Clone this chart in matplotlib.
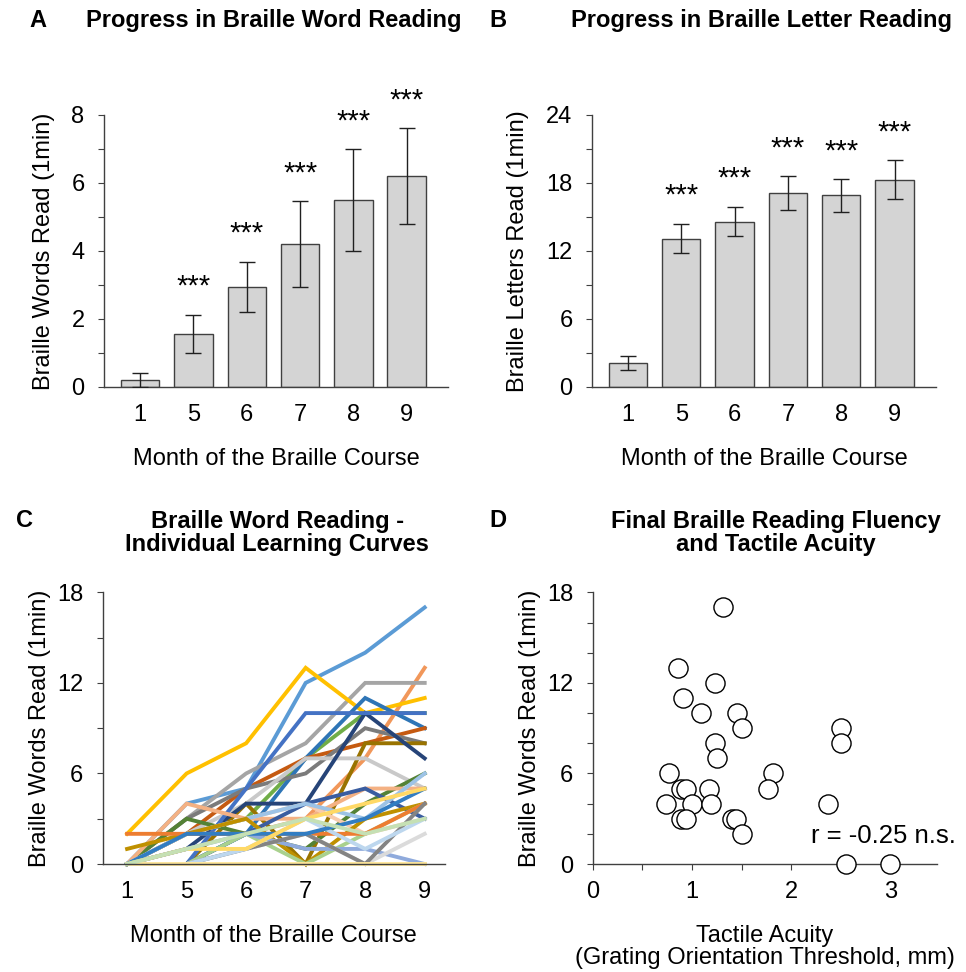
import matplotlib
matplotlib.use("Agg")
import matplotlib.pyplot as plt

plt.rcParams['font.family'] = ['Liberation Sans', 'DejaVu Sans']

# Panel A/B: group means and error bars per course month
months = ['1', '5', '6', '7', '8', '9']
word_mean = [0.2, 1.56, 2.95, 4.2, 5.5, 6.2]
word_err = [0.2, 0.57, 0.74, 1.26, 1.5, 1.42]
letter_mean = [2.1, 13.1, 14.6, 17.1, 16.9, 18.3]
letter_err = [0.6, 1.3, 1.3, 1.5, 1.45, 1.7]
word_sig = ['', '***', '***', '***', '***', '***']
letter_sig = ['', '***', '***', '***', '***', '***']

# Panel C: individual curves (words read at months 1,5,6,7,8,9)
curves = [
    [0, 4, 5, 12, 14, 17],
    [0, 2, 2, 3, 7, 13],
    [0, 3, 6, 8, 12, 12],
    [2, 6, 8, 13, 10, 11],
    [0, 2, 3, 7, 10, 10],
    [0, 0, 2, 7, 11, 9],
    [0, 2, 5, 7, 8, 9],
    [0, 3, 5, 6, 9, 8],
    [0, 0, 4, 0, 8, 8],
    [0, 2, 4, 7, 7, 5],
    [0, 1, 4, 4, 10, 7],
    [0, 0, 5, 10, 10, 10],
    [0, 3, 2, 1, 4, 6],
    [0, 4, 3, 3, 5, 5],
    [0, 2, 3, 4, 2, 3],
    [0, 0, 2, 4, 5, 3],
    [0, 2, 3, 4, 3, 6],
    [1, 2, 3, 0, 3, 4],
    [0, 0, 2, 0, 2, 4],
    [2, 2, 2, 2, 2, 4],
    [0, 1, 2, 1, 1, 0],
    [0, 0, 1, 2, 0, 2],
    [0, 0, 1, 2, 0, 4],
    [0, 0, 1, 3, 1, 3],
    [0, 2, 2, 2, 3, 5],
    [0, 1, 1, 3, 4, 5],
    [0, 0, 0, 0, 0, 0],
    [0, 1, 2, 3, 2, 3],
]
curve_colors = ['#5b9bd5', '#f1975a', '#a5a5a5', '#ffc000', '#70ad47', '#2e75b6',
                '#c55a11', '#7b7b7b', '#997300', '#c9c9c9', '#264478', '#4472c4',
                '#548235', '#f4b183', '#f8cbad', '#3a5da0', '#9dc3e6', '#bf9000',
                '#a9d18e', '#ed7d31', '#8faadc', '#dbdbdb', '#848484', '#bdd7ee',
                '#327dc2', '#ffd966', '#ffe699', '#c5e0b4']

# Panel D: acuity threshold vs final words read
acuity = [1.31, 0.855, 1.23, 0.905, 1.09, 1.455, 1.505, 2.505, 2.505, 1.235,
          1.25, 0.765, 1.815, 1.765, 0.89, 0.94, 1.17, 0.74, 1.0, 1.19,
          2.37, 0.89, 0.94, 1.40, 1.445, 1.5, 2.55, 3.0]
final_words = [17, 13, 12, 11, 10, 10, 9, 9, 8, 8,
               7, 6, 6, 5, 5, 5, 5, 4, 4, 4,
               4, 3, 3, 3, 3, 2, 0, 0]

AX = '#404040'
FS = 17


def style_axes(ax):
    for s in ['top', 'right']:
        ax.spines[s].set_visible(False)
    for s in ['left', 'bottom']:
        ax.spines[s].set_color(AX)
        ax.spines[s].set_linewidth(1.0)
    ax.tick_params(axis='y', direction='out', length=4, color=AX, labelsize=FS, pad=10)
    ax.tick_params(axis='x', length=0, labelsize=FS, pad=12)


def bar_panel(ax, means, errs, sig, ymax, step, ylabel, lpad):
    x = list(range(len(months)))
    ax.bar(x, means, width=0.72, color='#d4d4d4', edgecolor=AX, linewidth=1.0, zorder=2)
    ax.errorbar(x, means, yerr=errs, fmt='none', ecolor='#202020', elinewidth=1.0,
                capsize=6, capthick=1.0, zorder=3)
    for xi, m, e, s in zip(x, means, errs, sig):
        if s:
            ax.annotate(s, xy=(xi, m + e), xytext=(0, 20), textcoords='offset points',
                        ha='center', va='center', fontsize=21)
    ax.set_xlim(-0.675, 5.775)
    ax.set_ylim(0, ymax)
    ax.set_xticks(x)
    ax.set_xticklabels(months)
    ticks = [i * step / 2 for i in range(0, int(2 * ymax / step) + 1)]
    ax.set_yticks(ticks)
    ax.set_yticklabels([('%g' % t) if i % 2 == 0 else '' for i, t in enumerate(ticks)])
    ax.set_ylabel(ylabel, fontsize=FS, labelpad=lpad)
    ax.set_xlabel('Month of the Braille Course', fontsize=FS, labelpad=16)
    style_axes(ax)


fig = plt.figure(figsize=(9.66, 9.72), dpi=100)

axA = fig.add_axes([0.1077, 0.6019, 0.3561, 0.2798])
bar_panel(axA, word_mean, word_err, word_sig, 8, 2, 'Braille Words Read (1min)', 12)

axB = fig.add_axes([0.6128, 0.6019, 0.3561, 0.2798])
bar_panel(axB, letter_mean, letter_err, letter_sig, 24, 6, 'Braille Letters Read (1min)', 12.5)

# Panel C
axC = fig.add_axes([0.1063, 0.1111, 0.3543, 0.2795])
xs = list(range(len(months)))
for vals, col in zip(curves, curve_colors):
    axC.plot(xs, vals, color=col, linewidth=2.8, solid_joinstyle='miter', clip_on=False)
axC.set_xlim(-0.41, 5.34)
axC.set_ylim(0, 18)
axC.set_xticks(xs)
axC.set_xticklabels(months)
axC.set_yticks(range(0, 19, 3))
axC.set_yticklabels(['0', '', '6', '', '12', '', '18'])
axC.set_ylabel('Braille Words Read (1min)', fontsize=FS, labelpad=4)
axC.set_xlabel('Month of the Braille Course', fontsize=FS, labelpad=16)
style_axes(axC)

# Panel D
axD = fig.add_axes([0.6136, 0.1111, 0.3564, 0.2795])
axD.scatter(acuity, final_words, s=190, facecolor='white', edgecolor='black',
            linewidth=1.0, zorder=4, clip_on=False)
axD.set_xlim(0, 3.47)
axD.set_ylim(0, 18)
axD.set_xticks([i * 0.5 for i in range(7)])
axD.set_xticklabels(['0', '', '1', '', '2', '', '3'])
axD.set_yticks(range(0, 19, 2))
axD.set_yticklabels([str(v) if v % 6 == 0 else '' for v in range(0, 19, 2)])
axD.set_ylabel('Braille Words Read (1min)', fontsize=FS, labelpad=4)
axD.set_xlabel('Tactile Acuity\n(Grating Orientation Threshold, mm)', fontsize=FS,
               labelpad=16, linespacing=1.0)
style_axes(axD)
axD.tick_params(axis='x', direction='out', length=4, color=AX, pad=8)
axD.text(2.2, 1.85, 'r = -0.25 n.s.', fontsize=18.5, ha='left', va='center')

# Titles and panel letters
fig.text(0.283, 0.979, 'Progress in Braille Word Reading', fontsize=FS,
         fontweight='bold', ha='center', va='center')
fig.text(0.788, 0.979, 'Progress in Braille Letter Reading', fontsize=FS,
         fontweight='bold', ha='center', va='center')
fig.text(0.287, 0.452, 'Braille Word Reading -\nIndividual Learning Curves', fontsize=FS,
         fontweight='bold', ha='center', va='center', linespacing=1.0)
fig.text(0.803, 0.452, 'Final Braille Reading Fluency\nand Tactile Acuity', fontsize=FS,
         fontweight='bold', ha='center', va='center', linespacing=1.0)
fig.text(0.039, 0.979, 'A', fontsize=FS, fontweight='bold', ha='center', va='center')
fig.text(0.515, 0.979, 'B', fontsize=FS, fontweight='bold', ha='center', va='center')
fig.text(0.025, 0.464, 'C', fontsize=FS, fontweight='bold', ha='center', va='center')
fig.text(0.515, 0.464, 'D', fontsize=FS, fontweight='bold', ha='center', va='center')

fig.savefig('out.png', dpi=100)
